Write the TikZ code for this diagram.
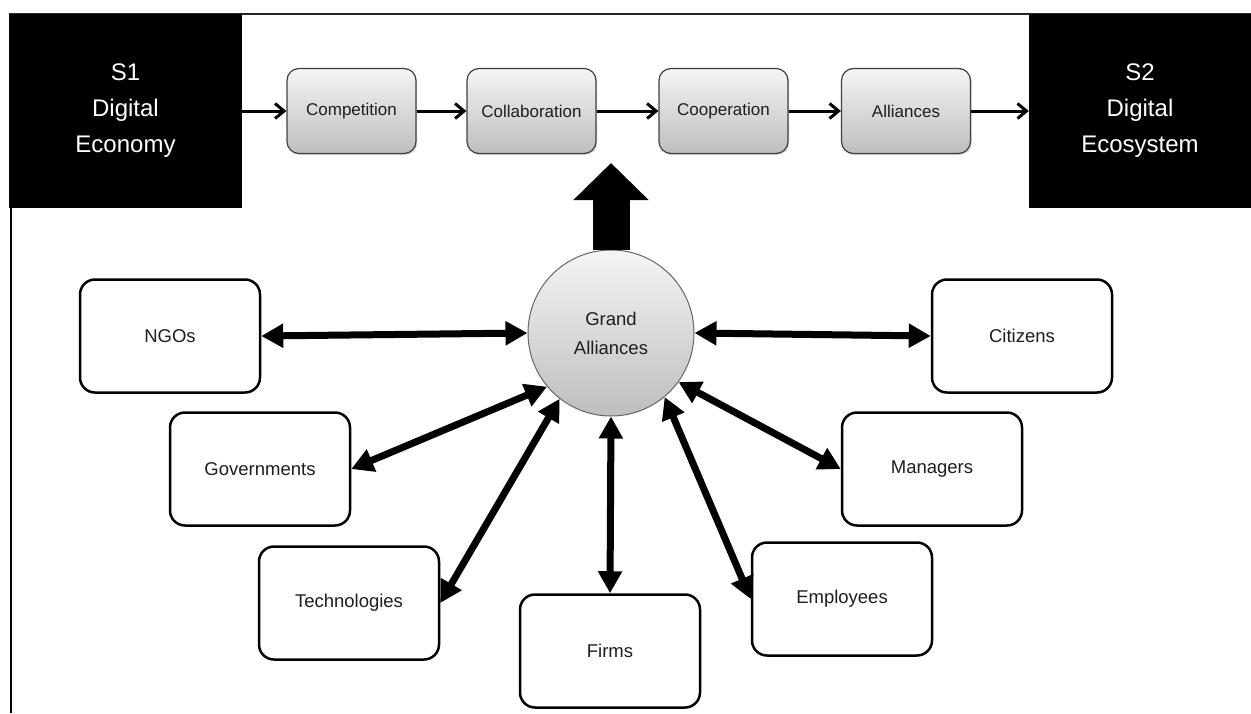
\documentclass[tikz,border=0pt]{standalone}
\usepackage{fontspec}
\setmainfont{Liberation Sans}
\usetikzlibrary{arrows.meta,shadows}
\definecolor{boxtop}{HTML}{F5F5F5}
\definecolor{boxbot}{HTML}{BEBEBE}
\definecolor{boxline}{HTML}{404040}
\definecolor{txt}{HTML}{1E1E1E}
\begin{document}
\begin{tikzpicture}[x=1pt,y=-1pt,
  sbox/.style={fill=black, draw=none, text=white, align=center,
    font=\fontsize{24}{36}\selectfont, inner sep=0pt},
  procbox/.style={rectangle, rounded corners=12pt, draw=boxline, line width=1.2pt,
    top color=boxtop, bottom color=boxbot, minimum width=129pt, minimum height=85pt,
    text=txt, font=\fontsize{17}{20}\selectfont,
    drop shadow={shadow xshift=1.2pt, shadow yshift=-1.5pt, opacity=0.35}},
  hub/.style={circle, draw=boxline!80, line width=1pt, top color=boxtop, bottom color=boxbot,
    minimum size=166pt, inner sep=0pt, align=center, text=txt,
    font=\fontsize{18.5}{29}\selectfont},
  stake/.style={rectangle, rounded corners=15pt, draw=black, line width=2.5pt, fill=white,
    minimum width=180pt, minimum height=113pt, text=txt, font=\fontsize{18.5}{22}\selectfont},
  flow/.style={line width=3pt, -{Straight Barb[length=9pt,width=15pt]}},
  dbl/.style={line width=7pt, {Triangle[length=22pt,width=23pt]}-{Triangle[length=22pt,width=23pt]}},
  bigarrow/.style={line width=37pt, -{Triangle[length=37pt,width=73pt]}}
]
\useasboundingbox (0,0) rectangle (1251,713);
% frame lines
\coordinate (ftl) at (9,14);
\coordinate (ftr) at (1251,14);
\coordinate (fbl) at (11,713);
\draw[line width=2pt, black!85] (ftl) -- (ftr);
\draw[line width=2.5pt, black] (11,14) -- (fbl);
% S boxes
\node[sbox, minimum width=233pt, minimum height=194pt] (s1) at (125.5,111) {S1\\Digital\\Economy};
\node[sbox, minimum width=222pt, minimum height=194pt] (s2) at (1140,111) {S2\\Digital\\Ecosystem};
% process boxes
\node[procbox] (comp) at (351.5,111) {Competition};
\node[procbox] (collab) at (531.5,111) {Collaboration};
\node[procbox] (coop) at (723.5,111) {Cooperation};
\node[procbox] (alli) at (906,111) {Alliances};
\draw[flow] (s1.east) -- (comp.west);
\draw[flow] (comp.east) -- (collab.west);
\draw[flow] (collab.east) -- (coop.west);
\draw[flow] (coop.east) -- (alli.west);
\draw[flow] (alli.east) -- (s2.west);
% hub
\coordinate (bigtip) at (611,163);
\node[hub] (ga) at (611,333) {Grand\\Alliances};
\draw[bigarrow] (ga.north) -- (bigtip);
% stakeholders
\node[stake] (ngo) at (170,336) {NGOs};
\node[stake] (gov) at (260,469) {Governments};
\node[stake] (tech) at (349,603) {Technologies};
\node[stake] (firms) at (610,651) {Firms};
\node[stake] (emp) at (842,599) {Employees};
\node[stake] (mgr) at (932,469) {Managers};
\node[stake] (cit) at (1022,336) {Citizens};
\draw[dbl] (ngo.east) -- (ga.west);
\draw[dbl] (ga.east) -- (cit.west);
\draw[dbl] (gov.east) -- (ga.220);
\draw[dbl] (tech.east) -- (ga.232);
\draw[dbl] (ga.south) -- (firms.north);
\draw[dbl] (emp.west) -- (ga.310);
\draw[dbl] (ga.324) -- (mgr.west);
\end{tikzpicture}
\end{document}
